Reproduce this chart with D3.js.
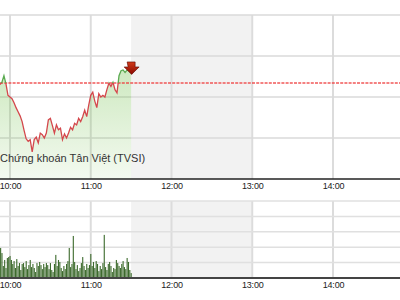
<!DOCTYPE html>
<html>
<head>
<meta charset="utf-8">
<script src="https://cdn.jsdelivr.net/npm/d3@7"></script>
<style>
  html, body { margin:0; padding:0; background:#fff; }
  svg { display:block; font-family:"Liberation Sans", Arial, sans-serif; }
</style>
</head>
<body>
<svg id="chart" width="400" height="300"></svg>
<script>
// ---- data ----
const priceTimes = [
  "09:52:30","09:54:00","09:55:30","09:57:00","09:58:30","10:00:00","10:01:30","10:03:00","10:04:30","10:06:00",
  "10:07:30","10:09:00","10:10:30","10:12:00","10:13:30","10:15:00","10:16:30","10:18:00","10:19:30","10:21:00",
  "10:22:30","10:24:00","10:25:30","10:27:00","10:28:30","10:30:00","10:31:30","10:33:00","10:34:30","10:36:00",
  "10:37:30","10:39:00","10:40:30","10:42:00","10:43:30","10:45:00","10:46:30","10:48:00","10:49:30","10:51:00",
  "10:52:30","10:54:00","10:55:30","10:57:00","10:58:30","11:00:00","11:01:30","11:03:00","11:04:30","11:06:00",
  "11:07:30","11:09:00","11:10:30","11:12:00","11:13:30","11:15:00","11:16:30","11:18:00","11:19:30","11:21:00",
  "11:22:30","11:24:00","11:25:30","11:27:00","11:28:30","11:30:00"
];
const priceValues = [
  511.5,511.8,512.6,511.6,510.2,510.0,509.8,509.3,508.7,508.2,
  507.7,507.0,505.9,504.9,504.6,504.8,503.3,504.8,505.1,504.4,
  505.6,505.4,505.0,505.6,507.2,507.4,506.5,505.6,506.6,506.0,
  506.2,504.8,505.5,505.0,505.6,506.3,506.0,506.8,506.6,507.4,
  507.0,507.6,508.4,507.6,509.0,510.2,510.6,509.5,508.7,510.4,
  510.0,510.2,510.0,510.9,511.7,511.3,511.8,510.9,510.5,512.6,
  513.2,513.3,513.0,513.3,513.2,513.3
];
const refPrice = 511.7;

const volTimes = [
  "09:53","09:54","09:55","09:56","09:57","09:58","09:59","10:00","10:01","10:02",
  "10:03","10:04","10:05","10:06","10:07","10:08","10:09","10:10","10:11","10:12",
  "10:13","10:14","10:15","10:16","10:17","10:18","10:19","10:20","10:21","10:22",
  "10:23","10:24","10:25","10:26","10:27","10:28","10:29","10:30","10:31","10:32",
  "10:33","10:34","10:35","10:36","10:37","10:38","10:39","10:40","10:41","10:42",
  "10:43","10:44","10:45","10:46","10:47","10:48","10:49","10:50","10:51","10:52",
  "10:53","10:54","10:55","10:56","10:57","10:58","10:59","11:00","11:01","11:02",
  "11:03","11:04","11:05","11:06","11:07","11:08","11:09","11:10","11:11","11:12",
  "11:13","11:14","11:15","11:16","11:17","11:18","11:19","11:20","11:21","11:22",
  "11:23","11:24","11:25","11:26","11:27","11:28","11:29","11:30"
];
const volValues = [
  195,162,78,117,65,130,136,143,117,91,
  110,65,123,78,97,52,91,97,71,110,
  58,84,117,71,91,65,39,97,78,104,
  84,58,91,71,97,84,58,97,52,39,
  91,150,78,117,104,65,45,78,58,91,
  110,195,71,91,273,104,58,84,45,65,
  97,136,78,52,91,65,84,156,78,104,
  65,110,91,45,78,58,97,280,71,52,
  91,104,78,39,65,58,117,97,78,65,
  91,110,71,58,130,104,52,32
];

const hourTicks = ["10:00","11:00","12:00","13:00","14:00"];
const sessionStart = "09:00", sessionEnd = "15:00";
const breakStart = "11:30", breakEnd = "13:00";
const priceTicks = [500, 505, 510, 515, 520];
const volTicks = [0, 100, 200, 300, 400, 500];
const caption = "Chứng khoán Tân Việt (TVSI)";

// ---- setup ----
const parseHMS = d3.timeParse("%H:%M:%S");
const parseHM = d3.timeParse("%H:%M");

const svg = d3.select("#chart");
const W = 400;
const pTop = 15, pBot = 179, vTop = 201, vBot = 278;

const x = d3.scaleTime()
  .domain([parseHM(sessionStart), parseHM(sessionEnd)])
  .range([-70.75, 413.75]);
const yP = d3.scaleLinear().domain([500, 520]).range([pBot, pTop]);
const yV = d3.scaleLinear().domain([0, 500]).range([vBot, vTop]);

const price = priceTimes.map((t,i)=>({t: parseHMS(t), v: priceValues[i]}));
const vol = volTimes.map((t,i)=>({t: parseHM(t), v: volValues[i]}));

// lunch break shading
[[pTop, pBot], [vTop, vBot]].forEach(([a,b])=>{
  svg.append("rect")
    .attr("x", x(parseHM(breakStart)))
    .attr("width", x(parseHM(breakEnd)) - x(parseHM(breakStart)))
    .attr("y", a).attr("height", b - a)
    .attr("fill", "#f2f2f2");
});

// vertical grid
const hours = hourTicks.map(parseHM);
[[pTop, pBot], [vTop, vBot]].forEach(([a,b])=>{
  svg.append("g").selectAll("line").data(hours).enter().append("line")
    .attr("x1", d=>x(d)).attr("x2", d=>x(d))
    .attr("y1", a).attr("y2", b)
    .attr("stroke", "#dcdcdc").attr("stroke-width", 2);
});

// horizontal grid
svg.append("g").selectAll("line").data(priceTicks.slice(1)).enter().append("line")
  .attr("x1", 0).attr("x2", W)
  .attr("y1", d=>yP(d)).attr("y2", d=>yP(d))
  .attr("stroke", "#dadada").attr("stroke-width", 1.5);
svg.append("g").selectAll("line").data(volTicks.slice(1)).enter().append("line")
  .attr("x1", 0).attr("x2", W)
  .attr("y1", d=>yV(d)).attr("y2", d=>yV(d))
  .attr("stroke", "#e0e0e0").attr("stroke-width", 1.5);

// area fill
const defs = svg.append("defs");
const grad = defs.append("linearGradient").attr("id", "fillGrad")
  .attr("gradientUnits", "userSpaceOnUse")
  .attr("x1", 0).attr("x2", 0)
  .attr("y1", yP(d3.max(priceValues))).attr("y2", pBot);
grad.append("stop").attr("offset", "0%").attr("stop-color", "rgb(110,190,70)").attr("stop-opacity", 0.34);
grad.append("stop").attr("offset", "100%").attr("stop-color", "rgb(110,190,70)").attr("stop-opacity", 0.08);

svg.append("path")
  .attr("d", d3.area().x(d=>x(d.t)).y0(pBot).y1(d=>yP(d.v))(price))
  .attr("fill", "url(#fillGrad)");

// reference line
svg.append("line")
  .attr("x1", 0).attr("x2", W)
  .attr("y1", yP(refPrice)).attr("y2", yP(refPrice))
  .attr("stroke", "#f03c3c").attr("stroke-width", 1.6)
  .attr("stroke-dasharray", "3,1.2").attr("opacity", 0.85);

// price line: green above ref, red below
defs.append("clipPath").attr("id", "above").append("rect")
  .attr("x", 0).attr("y", 0).attr("width", W).attr("height", yP(refPrice));
defs.append("clipPath").attr("id", "below").append("rect")
  .attr("x", 0).attr("y", yP(refPrice)).attr("width", W).attr("height", 300);

const line = d3.line().x(d=>x(d.t)).y(d=>yP(d.v));
svg.append("path").attr("d", line(price)).attr("clip-path", "url(#above)")
  .attr("fill", "none").attr("stroke", "#5aaa50").attr("stroke-width", 1.3);
svg.append("path").attr("d", line(price)).attr("clip-path", "url(#below)")
  .attr("fill", "none").attr("stroke", "#d4474c").attr("stroke-width", 1.3);

// last-point marker (down arrow)
const last = price[price.length-1];
const ax = x(last.t), ay = yP(last.v);
const ag = defs.append("linearGradient").attr("id", "arrowGrad")
  .attr("x1", 0).attr("x2", 0).attr("y1", 0).attr("y2", 1);
ag.append("stop").attr("offset", "0%").attr("stop-color", "#d23a1a");
ag.append("stop").attr("offset", "100%").attr("stop-color", "#8a0a00");
svg.append("path")
  .attr("d", `M${ax-4},${ay-8} h8 v5 h4 l-7.5,7.5 l-7.5,-7.5 h4 z`)
  .attr("fill", "url(#arrowGrad)")
  .attr("stroke", "#5a0500").attr("stroke-width", 0.6);

// caption
svg.append("text")
  .attr("x", 0).attr("y", 162)
  .attr("font-size", 11).attr("fill", "#333")
  .text(caption);

// volume bars
svg.append("g").selectAll("rect").data(vol).enter().append("rect")
  .attr("x", d=>x(d.t) - 0.5)
  .attr("width", 1.1)
  .attr("y", d=>yV(d.v))
  .attr("height", d=>vBot - yV(d.v))
  .attr("fill", "#3c6a2c");

// axis lines
svg.append("line").attr("x1", 0).attr("x2", W).attr("y1", pBot).attr("y2", pBot)
  .attr("stroke", "#222").attr("stroke-width", 1.5);
svg.append("line").attr("x1", 0).attr("x2", W).attr("y1", vBot).attr("y2", vBot)
  .attr("stroke", "#444").attr("stroke-width", 2);

// axis labels
[pBot + 14, vBot + 14].forEach(yy=>{
  const ax = svg.append("g").attr("transform", `translate(0,${yy - 10})`)
    .call(d3.axisBottom(x).tickValues(hours).tickSize(0).tickPadding(0)
      .tickFormat(d3.timeFormat("%H:%M")));
  ax.select(".domain").remove();
  ax.selectAll("text")
    .attr("font-family", "'Liberation Sans', Arial, sans-serif")
    .attr("font-size", 9).attr("fill", "#222")
    .attr("letter-spacing", "-0.2");
});
</script>
</body>
</html>
